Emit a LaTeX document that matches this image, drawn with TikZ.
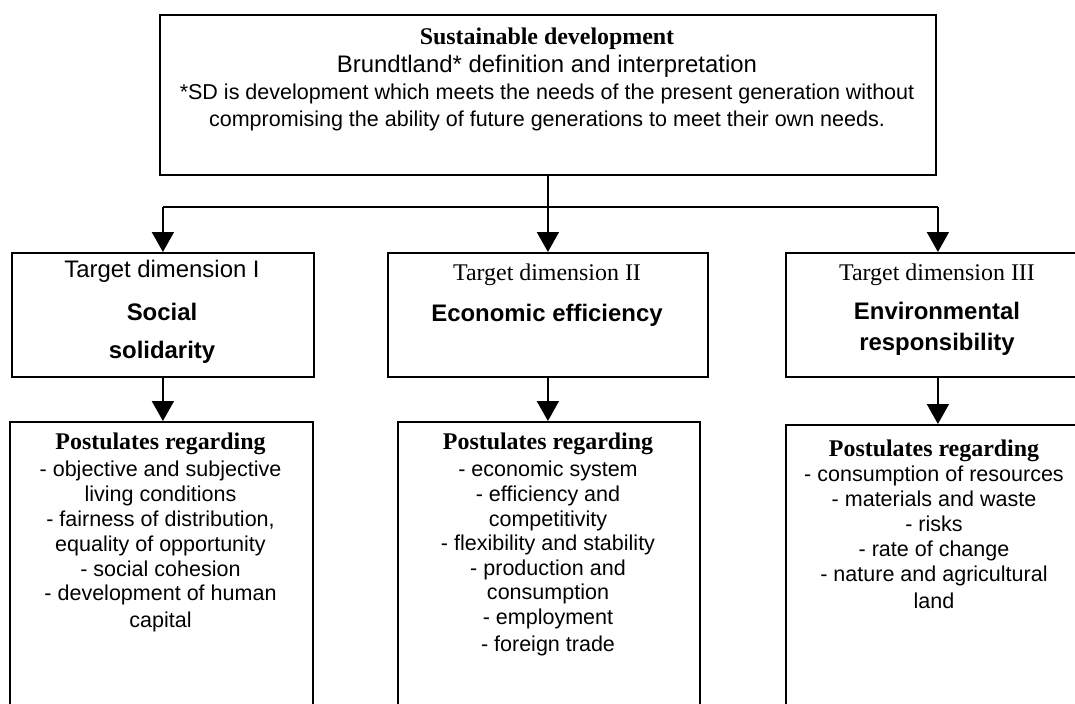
\documentclass[tikz,border=0pt]{standalone}
\usepackage{fontspec}
\setmainfont{Liberation Serif}
\setsansfont{Liberation Sans}
\usetikzlibrary{arrows.meta}
\begin{document}
\begin{tikzpicture}[x=1bp,y=-1bp,
  box/.style={draw, line width=1.8bp, rectangle, inner sep=0pt, anchor=north west},
  conn/.style={line width=1.8bp},
  arr/.style={conn, -{Triangle[width=22bp,length=20bp]}},
  txt/.style={anchor=base, inner sep=0pt},
  sansL/.style={txt, font=\sffamily\fontsize{24}{28}\selectfont},
  sansLB/.style={txt, font=\sffamily\bfseries\fontsize{24}{28}\selectfont},
  serifL/.style={txt, font=\rmfamily\fontsize{24}{28}\selectfont},
  serifLB/.style={txt, font=\rmfamily\bfseries\fontsize{24}{28}\selectfont},
  sansS/.style={txt, font=\sffamily\fontsize{21.6}{25}\selectfont}
]
\useasboundingbox (0,0) rectangle (1075,704);
\clip (0,0) rectangle (1075,704);

% boxes
\node[box, minimum width=776bp, minimum height=160bp] (top) at (159,14) {};
\node[box, minimum width=302bp, minimum height=124bp] (t1) at (11,252) {};
\node[box, minimum width=320bp, minimum height=124bp] (t2) at (387,252) {};
\node[box, minimum width=304bp, minimum height=124bp] (t3) at (785,252) {};
\node[box, minimum width=303bp, minimum height=300bp] (b1) at (9,421) {};
\node[box, minimum width=302bp, minimum height=300bp] (b2) at (397,421) {};
\node[box, minimum width=304bp, minimum height=300bp] (b3) at (785,424) {};

% top text
\node[serifLB] (topA) at (547,45) {Sustainable development};
\node[sansL] (topB) at (547,73) {Brundtland* definition and interpretation};
\node[sansS] (topC) at (547,100) {*SD is development which meets the needs of the present generation without};
\node[sansS] (topD) at (547,127) {compromising the ability of future generations to meet their own needs.};

% target dimension texts
\node[sansL] (t1a) at (162,277) {Target dimension I};
\node[sansLB] (t1b) at (162,320) {Social};
\node[sansLB] (t1c) at (162,358) {solidarity};
\node[serifL] (t2a) at (547,280) {Target dimension II};
\node[sansLB] (t2b) at (547,321) {Economic efficiency};
\node[serifL] (t3a) at (937,280) {Target dimension III};
\node[sansLB] (t3b) at (937,319) {Environmental};
\node[sansLB] (t3c) at (937,350) {responsibility};

% postulates I
\node[serifLB] (b1h) at (160.5,449) {Postulates regarding};
\node[sansS] (b1a) at (160.5,476) {- objective and subjective};
\node[sansS] (b1b) at (160.5,501) {living conditions};
\node[sansS] (b1c) at (160.5,526) {- fairness of distribution,};
\node[sansS] (b1d) at (160.5,551) {equality of opportunity};
\node[sansS] (b1e) at (160.5,576) {- social cohesion};
\node[sansS] (b1f) at (160.5,600.5) {- development of human};
\node[sansS] (b1g) at (160.5,627) {capital};

% postulates II
\node[serifLB] (b2h) at (548,449) {Postulates regarding};
\node[sansS] (b2a) at (548,476) {- economic system};
\node[sansS] (b2b) at (548,501) {- efficiency and};
\node[sansS] (b2c) at (548,526) {competitivity};
\node[sansS] (b2d) at (548,550) {- flexibility and stability};
\node[sansS] (b2e) at (548,575) {- production and};
\node[sansS] (b2f) at (548,599) {consumption};
\node[sansS] (b2g) at (548,624) {- employment};
\node[sansS] (b2i) at (548,651) {- foreign trade};

% postulates III
\node[serifLB] (b3h) at (934,456) {Postulates regarding};
\node[sansS] (b3a) at (934,481) {- consumption of resources};
\node[sansS] (b3b) at (934,506) {- materials and waste};
\node[sansS] (b3c) at (934,531) {- risks};
\node[sansS] (b3d) at (934,556) {- rate of change};
\node[sansS] (b3e) at (934,581) {- nature and agricultural};
\node[sansS] (b3f) at (934,608) {land};

% connectors
\coordinate (brL) at (t1.north |- 0,207);
\coordinate (brR) at (t3.north |- 0,207);
\draw[conn] (brL) -- (brR);
\draw[arr] (top.south) -- (t2.north);
\draw[arr] (brL) -- (t1.north);
\draw[arr] (brR) -- (t3.north);
\draw[arr] (t1.south) -- (t1.south |- b1.north);
\draw[arr] (t2.south) -- (t2.south |- b2.north);
\draw[arr] (t3.south) -- (t3.south |- b3.north);
\end{tikzpicture}
\end{document}
